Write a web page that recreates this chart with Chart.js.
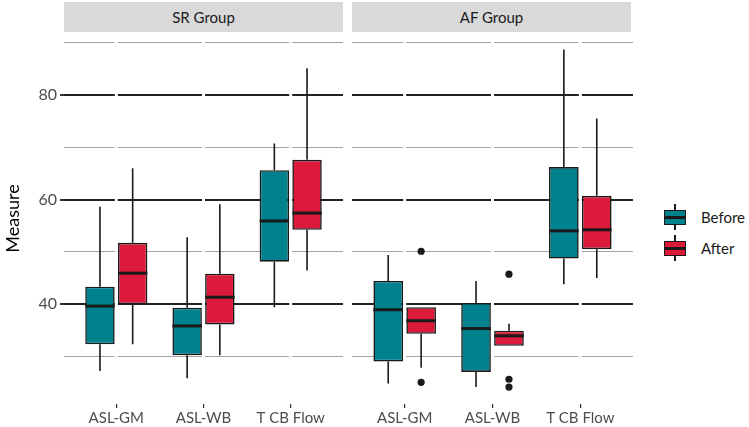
<!DOCTYPE html>
<html>
<head>
<meta charset="utf-8">
<script src="https://cdn.jsdelivr.net/npm/chart.js@4/dist/chart.umd.min.js"></script>
<style>
  body { margin: 0; background: #fff; }
  #wrap { position: relative; width: 749px; height: 427px; font-family: Lato, sans-serif; overflow: hidden; }
  canvas { position: absolute; top: 0; }
  .strip { position: absolute; top: 2px; height: 30px; background: #d9d9d9; color: #1a1a1a;
           font-size: 15px; line-height: 30px; text-align: center; }
  .key { position: absolute; left: 663px; width: 24px; height: 30px; }
  .key .stem { position: absolute; left: 11px; width: 2px; top: 2px; height: 26px; background: #1a1a1a; }
  .key .box { position: absolute; left: 1px; width: 20px; top: 8px; height: 13px; border: 1.5px solid #1a1a1a; }
  .key .med { position: absolute; left: 1px; width: 22px; top: 14px; height: 2.5px; background: #1a1a1a; }
  .lab { position: absolute; left: 701px; font-size: 15px; color: #1a1a1a; line-height: 30px; }
</style>
</head>
<body>
<div id="wrap">
  <canvas id="sr" width="348" height="427" style="left:0"></canvas>
  <canvas id="af" width="290" height="427" style="left:348px"></canvas>
  <div class="strip" style="left:64px;width:279px">SR Group</div>
  <div class="strip" style="left:352px;width:279px">AF Group</div>
  <div class="key" style="top:202px"><div class="stem"></div><div class="box" style="background:#00828e"></div><div class="med"></div></div>
  <div class="lab" style="top:202px">Before</div>
  <div class="key" style="top:233px"><div class="stem"></div><div class="box" style="background:#dc1a3c"></div><div class="med"></div></div>
  <div class="lab" style="top:233px">After</div>
</div>
<script>
// categories on the x axis
const categories = ['ASL-GM', 'ASL-WB', 'T CB Flow'];
const yTicks = [30, 40, 50, 60, 70, 80, 90];
const yLabels = [40, 60, 80];

// SR Group, before
const srBeforeMin = [27.2, 25.8, 39.4];
const srBeforeQ1 = [32.3, 30.2, 48.1];
const srBeforeMed = [39.6, 35.8, 55.9];
const srBeforeQ3 = [43.3, 39.3, 65.6];
const srBeforeMax = [58.6, 52.8, 70.7];
// SR Group, after
const srAfterMin = [32.3, 30.2, 46.4];
const srAfterQ1 = [40.0, 36.1, 54.2];
const srAfterMed = [45.9, 41.3, 57.4];
const srAfterQ3 = [51.7, 45.8, 67.6];
const srAfterMax = [66.0, 59.1, 85.1];

// AF Group, before
const afBeforeMin = [24.8, 24.1, 43.8];
const afBeforeQ1 = [29.0, 27.0, 48.7];
const afBeforeMed = [38.9, 35.3, 54.0];
const afBeforeQ3 = [44.4, 40.2, 66.2];
const afBeforeMax = [49.4, 44.4, 88.7];
// AF Group, after
const afAfterMin = [27.8, 32.0, 45.0];
const afAfterQ1 = [34.3, 32.0, 50.5];
const afAfterMed = [36.8, 33.9, 54.2];
const afAfterQ3 = [39.4, 34.9, 60.7];
const afAfterMax = [39.4, 36.2, 75.5];
const afAfterOut = [[50.1, 25.0], [45.7, 25.6, 24.1], []];

const TEAL = '#00828e';
const RED = '#dc1a3c';
const INK = '#1a1a1a';

function boxSet(label, color, min, q1, med, q3, max, outs) {
    return {
        label: label,
        data: categories.map((c, i) => ({ x: i + 1, y: [q1[i], q3[i]] })),
        mins: min, meds: med, maxs: max, outs: outs || [],
        backgroundColor: color,
        borderColor: INK,
        borderWidth: 1.6,
        borderSkipped: false,
        categoryPercentage: 0.75,
        barPercentage: 0.9
    };
}

// whiskers, medians and outliers, placed with the chart's own scales
const boxExtras = {
    id: 'boxExtras',
    beforeDatasetsDraw(chart) {
        const ctx = chart.ctx, x = chart.scales.x, area = chart.chartArea;
        ctx.save();
        ctx.strokeStyle = '#ffffff';
        ctx.lineWidth = 3;
        categories.forEach((c, i) => {
            const px = x.getPixelForValue(i + 1);
            ctx.beginPath();
            ctx.moveTo(px, area.top);
            ctx.lineTo(px, area.bottom);
            ctx.stroke();
        });
        ctx.restore();
    },
    afterDatasetsDraw(chart) {
        const ctx = chart.ctx, y = chart.scales.y;
        ctx.save();
        chart.data.datasets.forEach((ds, di) => {
            const meta = chart.getDatasetMeta(di);
            meta.data.forEach((bar, i) => {
                const q1 = ds.data[i].y[0], q3 = ds.data[i].y[1];
                ctx.strokeStyle = INK;
                ctx.lineWidth = 1.6;
                ctx.beginPath();
                ctx.moveTo(bar.x, y.getPixelForValue(q3));
                ctx.lineTo(bar.x, y.getPixelForValue(ds.maxs[i]));
                ctx.moveTo(bar.x, y.getPixelForValue(q1));
                ctx.lineTo(bar.x, y.getPixelForValue(ds.mins[i]));
                ctx.stroke();
                // median
                ctx.lineWidth = 3;
                ctx.beginPath();
                ctx.moveTo(bar.x - bar.width / 2, y.getPixelForValue(ds.meds[i]));
                ctx.lineTo(bar.x + bar.width / 2, y.getPixelForValue(ds.meds[i]));
                ctx.stroke();
                // outliers
                ctx.fillStyle = INK;
                (ds.outs[i] || []).forEach(v => {
                    ctx.beginPath();
                    ctx.arc(bar.x, y.getPixelForValue(v), 3.6, 0, Math.PI * 2);
                    ctx.fill();
                });
            });
        });
        ctx.restore();
    }
};

function makeChart(id, datasets, showY) {
    const isMajor = v => yLabels.includes(v);
    return new Chart(document.getElementById(id), {
        type: 'bar',
        data: { datasets: datasets },
        plugins: [boxExtras],
        options: {
            responsive: false,
            animation: false,
            layout: { padding: { top: 33, right: 5, left: showY ? 0 : 4, bottom: 0 } },
            plugins: { legend: { display: false }, tooltip: { enabled: false } },
            scales: {
                x: {
                    type: 'linear',
                    min: 0.4,
                    max: 3.6,
                    offset: false,
                    afterBuildTicks: axis => { axis.ticks = categories.map((c, i) => ({ value: i + 1 })); },
                    afterFit: s => { s.height = 23; },
                    border: { display: false },
                    grid: { offset: false, drawOnChartArea: false, color: '#333333', tickLength: 4, lineWidth: 1.2 },
                    ticks: {
                        callback: (v, i) => categories[i],
                        color: '#4d4d4d',
                        font: { family: 'Lato', size: 15 },
                        padding: 1,
                        maxRotation: 0,
                        autoSkip: false
                    }
                },
                y: {
                    min: 20.86,
                    max: 91.87,
                    afterBuildTicks: axis => { axis.ticks = yTicks.map(v => ({ value: v })); },
                    afterFit: s => { s.width = showY ? 64 : 0; },
                    border: { display: false },
                    grid: {
                        color: c => isMajor(c.tick.value) ? '#222222' : '#a3a3a3',
                        lineWidth: c => isMajor(c.tick.value) ? 2 : 1.1,
                        tickColor: c => isMajor(c.tick.value) ? '#333333' : 'rgba(0,0,0,0)',
                        drawTicks: showY,
                        tickLength: 4
                    },
                    ticks: {
                        display: showY,
                        callback: v => isMajor(v) ? String(v) : '',
                        color: '#4d4d4d',
                        font: { family: 'Lato', size: 16 },
                        padding: 3
                    },
                    title: {
                        display: showY,
                        text: 'Measure',
                        color: '#000000',
                        font: { family: 'Lato', size: 18 },
                        padding: { top: 2, bottom: 0 }
                    }
                }
            }
        }
    });
}

makeChart('sr', [
    boxSet('Before', TEAL, srBeforeMin, srBeforeQ1, srBeforeMed, srBeforeQ3, srBeforeMax),
    boxSet('After', RED, srAfterMin, srAfterQ1, srAfterMed, srAfterQ3, srAfterMax)
], true);

makeChart('af', [
    boxSet('Before', TEAL, afBeforeMin, afBeforeQ1, afBeforeMed, afBeforeQ3, afBeforeMax),
    boxSet('After', RED, afAfterMin, afAfterQ1, afAfterMed, afAfterQ3, afAfterMax, afAfterOut)
], false);
</script>
</body>
</html>
